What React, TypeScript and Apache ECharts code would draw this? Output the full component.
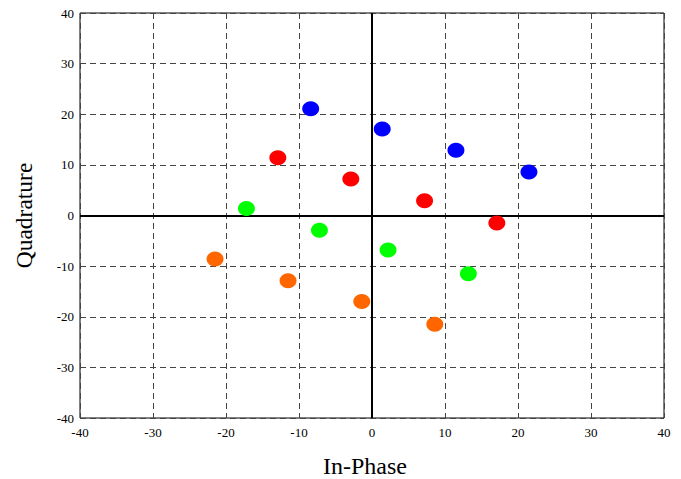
import React, { useEffect, useRef } from "react";
import * as echarts from "echarts";

const blueI = [-8.4, 1.4, 11.5, 21.5];
const blueQ = [21.1, 17.1, 12.9, 8.6];
const redI = [-12.9, -2.9, 7.2, 17.1];
const redQ = [11.4, 7.2, 2.9, -1.5];
const greenI = [-17.2, -7.2, 2.2, 13.2];
const greenQ = [1.4, -2.9, -6.8, -11.5];
const orangeI = [-21.5, -11.5, -1.4, 8.6];
const orangeQ = [-8.6, -12.9, -17.0, -21.5];

const groups = [
  { name: "blue", color: "#0000ff", i: blueI, q: blueQ },
  { name: "red", color: "#ff0000", i: redI, q: redQ },
  { name: "green", color: "#00ff00", i: greenI, q: greenQ },
  { name: "orange", color: "#ff6600", i: orangeI, q: orangeQ },
];

const font = "Liberation Serif";

export default function App() {
  const ref = useRef<HTMLDivElement>(null);
  useEffect(() => {
    const chart = echarts.init(ref.current!, null, { renderer: "svg" });
    const label = { color: "#000", fontFamily: font, fontSize: 13 };
    const axisCommon = {
      type: "value" as const,
      min: -40,
      max: 40,
      interval: 10,
      axisLine: { show: false },
      axisTick: { show: false },
      splitLine: { show: true, lineStyle: { color: "#444", type: [6, 4] as any, width: 1 } },
    };
    chart.setOption({
      animation: false,
      backgroundColor: "#fff",
      textStyle: { fontFamily: font },
      grid: {
        left: 80,
        right: 17,
        top: 13,
        bottom: 61,
        show: true,
        borderColor: "#000",
        borderWidth: 1,
        outerBoundsMode: "none",
        containLabel: false,
      },
      xAxis: {
        ...axisCommon,
        name: "In-Phase",
        nameLocation: "middle",
        nameGap: 36,
        nameTextStyle: { color: "#000", fontFamily: font, fontSize: 24, padding: [0, 14, 0, 0] },
        axisLabel: { show: true, color: "#000", fontFamily: "Liberation Serif", fontSize: 13, fontStyle: "normal", fontWeight: "normal", margin: 8 },
      },
      yAxis: {
        ...axisCommon,
        name: "Quadrature",
        nameLocation: "middle",
        nameGap: 44,
        nameTextStyle: { color: "#000", fontFamily: font, fontSize: 23.5 },
        axisLabel: { show: true, color: "#000", fontFamily: "Liberation Serif", fontSize: 13, fontStyle: "normal", fontWeight: "normal", margin: 6 },
      },
      series: groups.map((g, idx) => ({
        type: "scatter",
        name: g.name,
        data: g.i.map((v, k) => [v, g.q[k]]),
        symbol: "circle",
        symbolSize: [17, 15],
        itemStyle: { color: g.color, opacity: 1 },
        z: 5,
        markLine:
          idx === 0
            ? {
                silent: true,
                symbol: ["none", "none"],
                label: { show: false },
                lineStyle: { color: "#000", type: "solid", width: 2 },
                data: [{ xAxis: 0 }, { yAxis: 0 }],
                z: 3,
              }
            : undefined,
      })),
    });
    return () => chart.dispose();
  }, []);
  return <div ref={ref} style={{ width: 681, height: 479, position: "absolute", left: 0, top: 0 }} />;
}
